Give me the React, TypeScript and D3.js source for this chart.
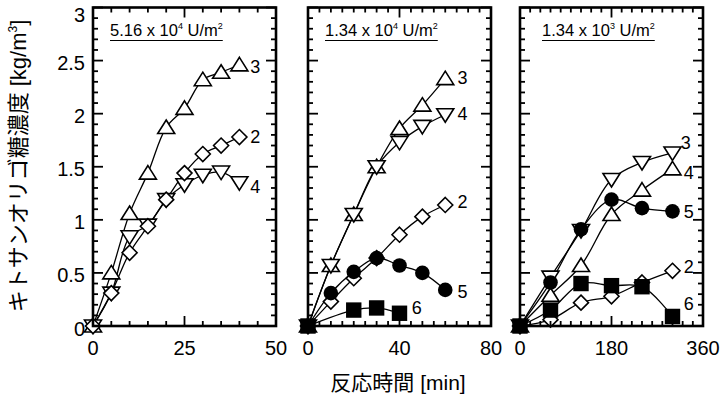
import React, { useEffect, useRef } from 'react';
import * as d3 from 'd3';

// panel 1: 5.16 x 10^4 U/m2
const time1 = [0, 5, 10, 15, 20, 25, 30, 35, 40];
const p1Dp3 = [0, 0.5, 1.06, 1.44, 1.87, 2.05, 2.32, 2.39, 2.46];
const p1Dp2 = [0, 0.31, 0.69, 0.94, 1.19, 1.44, 1.62, 1.7, 1.78];
const p1Dp4 = [0, 0.31, 0.84, 0.95, 1.19, 1.33, 1.42, 1.45, 1.35];

// panel 2: 1.34 x 10^4 U/m2
const time2 = [0, 10, 20, 30, 40, 50, 60];
const p2Dp3 = [0, 0.57, 1.05, 1.5, 1.86, 2.08, 2.33];
const p2Dp4 = [0, 0.57, 1.05, 1.5, 1.73, 1.88, 1.99];
const p2Dp2 = [0, 0.23, 0.45, 0.64, 0.86, 1.03, 1.14];
const p2Dp5 = [0, 0.31, 0.51, 0.64, 0.57, 0.5, 0.34];
const time2b = [0, 20, 30, 40];
const p2Dp6 = [0, 0.15, 0.17, 0.12];

// panel 3: 1.34 x 10^3 U/m2
const time3 = [0, 60, 120, 180, 240, 300];
const p3Down = [0, 0.46, 0.9, 1.38, 1.54, 1.63];
const p3Up = [0, 0.29, 0.57, 1.05, 1.28, 1.48];
const p3Dp5 = [0, 0.41, 0.91, 1.19, 1.11, 1.08];
const p3Dp2 = [0, 0.06, 0.22, 0.28, 0.41, 0.52];
const p3Dp6 = [0, 0.15, 0.4, 0.38, 0.37, 0.09];

const yTicks = [0, 0.5, 1, 1.5, 2, 2.5, 3];
const yLabels = ['0', '0.5', '1', '1.5', '2', '2.5', '3'];

const titles = [
  ['5.16 x 10', '4', ' U/m', '2'],
  ['1.34 x 10', '4', ' U/m', '2'],
  ['1.34 x 10', '3', ' U/m', '2'],
];

// series end labels, in data units
const labels1 = [
  { t: '3', x: 44.3, y: 2.44 },
  { t: '2', x: 44.3, y: 1.78 },
  { t: '4', x: 44.3, y: 1.31 },
];
const labels2 = [
  { t: '3', x: 67.5, y: 2.34 },
  { t: '4', x: 67.5, y: 2.0 },
  { t: '2', x: 67.5, y: 1.17 },
  { t: '5', x: 67.5, y: 0.32 },
  { t: '6', x: 47.5, y: 0.17 },
];
const labels3 = [
  { t: '3', x: 326, y: 1.72 },
  { t: '4', x: 332, y: 1.44 },
  { t: '5', x: 332, y: 1.07 },
  { t: '2', x: 332, y: 0.56 },
  { t: '6', x: 332, y: 0.21 },
];

const FONT = "'Liberation Sans', Arial, 'Noto Sans CJK JP', sans-serif";

const App = () => {
  const ref = useRef<SVGSVGElement | null>(null);

  useEffect(() => {
    if (!ref.current) return;
    const svg = d3.select(ref.current);
    svg.selectAll('*').remove();

    const y = d3.scaleLinear().domain([0, 3]).range([326, 7.5]);

    const panels = [
      {
        range: [93, 276], domain: [0, 50], major: [0, 25, 50], minorStep: 5,
        title: titles[0], titleDx: 17, labels: labels1,
        series: [
          { kind: 'up', xs: time1, ys: p1Dp3 },
          { kind: 'dia', xs: time1, ys: p1Dp2 },
          { kind: 'down', xs: time1, ys: p1Dp4 },
        ],
      },
      {
        range: [308, 491], domain: [0, 80], major: [0, 40, 80], minorStep: 5,
        title: titles[1], titleDx: 17, labels: labels2,
        series: [
          { kind: 'up', xs: time2, ys: p2Dp3 },
          { kind: 'down', xs: time2, ys: p2Dp4 },
          { kind: 'dia', xs: time2, ys: p2Dp2 },
          { kind: 'circ', xs: time2, ys: p2Dp5 },
          { kind: 'sq', xs: time2b, ys: p2Dp6 },
        ],
      },
      {
        range: [520, 703], domain: [0, 360], major: [0, 180, 360], minorStep: 20,
        title: titles[2], titleDx: 22, labels: labels3,
        series: [
          { kind: 'down', xs: time3, ys: p3Down },
          { kind: 'up', xs: time3, ys: p3Up },
          { kind: 'dia', xs: time3, ys: p3Dp2 },
          { kind: 'circ', xs: time3, ys: p3Dp5 },
          { kind: 'sq', xs: time3, ys: p3Dp6 },
        ],
      },
    ];

    const drawMarker = (g: any, kind: string, cx: number, cy: number) => {
      const open = kind !== 'circ' && kind !== 'sq';
      const fill = open ? '#fff' : '#000';
      if (kind === 'up') {
        g.append('path')
          .attr('d', `M${cx},${cy - 7.5}L${cx + 8.5},${cy + 6}L${cx - 8.5},${cy + 6}Z`)
          .attr('fill', fill).attr('stroke', '#000').attr('stroke-width', 1.6);
      } else if (kind === 'down') {
        g.append('path')
          .attr('d', `M${cx},${cy + 7.5}L${cx + 8.5},${cy - 6}L${cx - 8.5},${cy - 6}Z`)
          .attr('fill', fill).attr('stroke', '#000').attr('stroke-width', 1.6);
      } else if (kind === 'dia') {
        g.append('path')
          .attr('d', `M${cx},${cy - 7.5}L${cx + 7.5},${cy}L${cx},${cy + 7.5}L${cx - 7.5},${cy}Z`)
          .attr('fill', fill).attr('stroke', '#000').attr('stroke-width', 1.6);
      } else if (kind === 'circ') {
        g.append('circle').attr('cx', cx).attr('cy', cy).attr('r', 7.3).attr('fill', fill);
      } else {
        g.append('rect').attr('x', cx - 7.7).attr('y', cy - 7.7)
          .attr('width', 15.4).attr('height', 15.4).attr('fill', fill);
      }
    };

    panels.forEach((p) => {
      const x = d3.scaleLinear().domain(p.domain).range(p.range);
      const [x0, x1] = p.range;
      const g = svg.append('g');

      // curves through the points
      const line = d3.line<[number, number]>()
        .x((d) => x(d[0]))
        .y((d) => y(d[1]))
        .curve(d3.curveCatmullRom.alpha(0.5));
      p.series.forEach((s) => {
        const pts = s.xs.map((v, i) => [v, s.ys[i]] as [number, number]);
        g.append('path').attr('d', line(pts)).attr('fill', 'none')
          .attr('stroke', '#000').attr('stroke-width', 1.3);
      });

      // markers: open ones first, filled on top
      const order = ['up', 'down', 'dia', 'circ', 'sq'];
      [...p.series].sort((a, b) => order.indexOf(a.kind) - order.indexOf(b.kind))
        .forEach((s) => {
          s.xs.forEach((v, i) => drawMarker(g, s.kind, x(v), y(s.ys[i])));
        });

      // frame ticks
      const tickG = g.append('g').attr('stroke', '#000').attr('stroke-width', 1.8);
      const minors = d3.range(p.domain[0], p.domain[1] + 0.001, p.minorStep);
      minors.forEach((v) => {
        const len = p.major.includes(v) ? 10 : 5;
        tickG.append('line').attr('x1', x(v)).attr('x2', x(v)).attr('y1', y(0)).attr('y2', y(0) - len);
        tickG.append('line').attr('x1', x(v)).attr('x2', x(v)).attr('y1', y(3)).attr('y2', y(3) + len);
      });
      d3.range(0, 3.001, 0.1).forEach((v) => {
        const isMajor = Math.abs(v * 2 - Math.round(v * 2)) < 1e-6;
        const len = isMajor ? 10 : 5;
        tickG.append('line').attr('x1', x0).attr('x2', x0 + len).attr('y1', y(v)).attr('y2', y(v));
        tickG.append('line').attr('x1', x1).attr('x2', x1 - len).attr('y1', y(v)).attr('y2', y(v));
      });

      g.append('rect').attr('x', x0).attr('y', y(3)).attr('width', x1 - x0)
        .attr('height', y(0) - y(3)).attr('fill', 'none')
        .attr('stroke', '#000').attr('stroke-width', 2.6);

      // x tick labels
      p.major.forEach((v) => {
        g.append('text').attr('x', x(v)).attr('y', 355).attr('text-anchor', 'middle')
          .attr('font-family', FONT).attr('font-size', 20).text(String(v));
      });

      // title
      const tt = g.append('text').attr('x', x0 + p.titleDx).attr('y', 36)
        .attr('font-family', FONT).attr('font-size', 16.5);
      tt.append('tspan').text(p.title[0]);
      tt.append('tspan').attr('font-size', 9).attr('dy', -7).text(p.title[1]);
      tt.append('tspan').attr('dy', 7).text(p.title[2]);
      tt.append('tspan').attr('font-size', 9).attr('dy', -7).text(p.title[3]);
      const tw = (tt.node() as SVGTextElement).getComputedTextLength();
      g.append('line').attr('x1', x0 + p.titleDx).attr('x2', x0 + p.titleDx + tw)
        .attr('y1', 40.5).attr('y2', 40.5).attr('stroke', '#000').attr('stroke-width', 1);

      // series labels
      p.labels.forEach((l) => {
        g.append('text').attr('x', x(l.x)).attr('y', y(l.y)).attr('text-anchor', 'middle')
          .attr('dominant-baseline', 'central').attr('font-family', FONT)
          .attr('font-size', 18).text(l.t);
      });
    });

    // y tick labels on first panel
    yTicks.forEach((v, i) => {
      svg.append('text').attr('x', 85).attr('y', Math.max(y(v) + 2.5, 15))
        .attr('text-anchor', 'end')
        .attr('dominant-baseline', 'central').attr('font-family', FONT)
        .attr('font-size', 20).text(yLabels[i]);
    });

    // axis titles
    const yt = svg.append('text').attr('transform', 'translate(26,166) rotate(-90)')
      .attr('text-anchor', 'middle').attr('font-family', FONT).attr('font-size', 22);
    yt.append('tspan').text('キトサンオリゴ糖濃度 [kg/m');
    yt.append('tspan').attr('font-size', 12).attr('dy', -9).text('3');
    yt.append('tspan').attr('dy', 9).text(']');

    svg.append('text').attr('x', 398).attr('y', 390).attr('text-anchor', 'middle')
      .attr('font-family', FONT).attr('font-size', 21).text('反応時間 [min]');
  }, []);

  return (
    <svg
      ref={ref}
      width={723}
      height={400}
      style={{ position: 'absolute', left: 0, top: 0, background: '#fff' }}
    />
  );
};

export default App;
